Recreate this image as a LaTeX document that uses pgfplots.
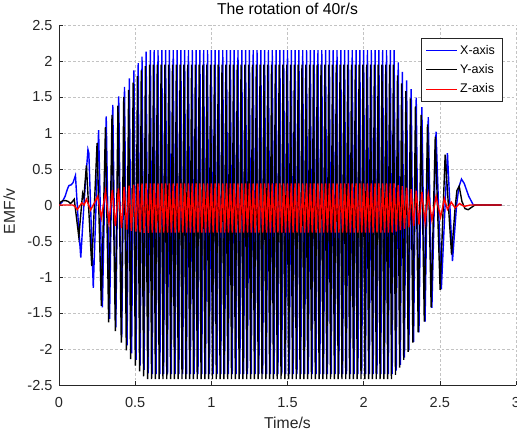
\documentclass[border=0pt]{standalone}
\usepackage{pgfplots}
\pgfplotsset{compat=1.18}
\usepackage{fontspec}
\setmainfont{Liberation Sans}
\definecolor{gridgray}{RGB}{195,195,195}
\definecolor{axisgray}{RGB}{38,38,38}
\pgfplotsset{
    every axis title/.style={at={(axis description cs:0.5,1.0278)}, anchor=base,
        font=\fontsize{11.8}{13}\selectfont, inner sep=0pt},
    every axis x label/.style={at={(axis description cs:0.5,-0.1222)}, anchor=base,
        font=\fontsize{11.8}{13}\selectfont, text=axisgray, inner sep=0pt},
    every axis y label/.style={at={(axis description cs:-0.0963,0.482)}, rotate=90, anchor=base,
        font=\fontsize{11.8}{13}\selectfont, text=axisgray, inner sep=0pt},
}
\begin{document}
\begin{tikzpicture}
\begin{axis}[
    scale only axis,
    width=342.75pt, height=270pt,
    xmin=0, xmax=3, ymin=-2.5, ymax=2.5,
    xtick={0,0.5,1,1.5,2,2.5,3},
    ytick={-2.5,-2,-1.5,-1,-0.5,0,0.5,1,1.5,2,2.5},
    axis lines=left,
    axis line style={-, axisgray, line width=0.6pt},
    tick align=inside,
    major tick length=3pt,
    tick style={axisgray, line width=0.5pt},
    grid=major,
    grid style={gridgray, line width=0.5pt, dash pattern=on 2pt off 1.5pt},
    /pgf/number format/assume math mode=true,
    ticklabel style={font=\fontsize{10.9}{12}\selectfont, text=axisgray, inner sep=0pt},
    xticklabel style={anchor=base, yshift=-16.7pt},
    yticklabel style={anchor=east, xshift=-4.7pt},
    title={The rotation of 40r/s},
    xlabel={Time/s},
    ylabel={EMF/v},
    legend style={at={(axis description cs:1,1)}, anchor=north east,
        xshift=-10.3pt, yshift=-10pt,
        font=\fontsize{9.4}{11}\selectfont, draw=axisgray, line width=0.5pt,
        fill=white, inner xsep=3.2pt, inner ysep=3pt, row sep=2pt,
        legend cell align=left},
    legend image code/.code={\draw[#1, line width=0.7pt] (0pt,0pt) -- (23pt,0pt);},
    every axis plot/.append style={line width=1.05pt},
]
\addplot[blue] coordinates {
(0,0) (0.02,0.04) (0.04,0.12) (0.055,0.22) (0.065,0.27) (0.08,0.28) (0.092,0.31) (0.1,0.36) (0.108,0.41)
(0.125,-0.18) (0.143,-0.73) (0.165,0.05) (0.19,0.77) (0.196,0.72) (0.225,-1.15)
(0.26,1.04) (0.285,-1.42) (0.31,1.23) (0.332,-1.58) (0.353,1.39) (0.373,-1.7) (0.392,1.51)
(0.412,-1.84) (0.43,1.64) (0.447,-1.95) (0.462,1.76) (0.477,-2.06) (0.492,1.87) (0.506,-2.15)
(0.52,1.97) (0.533,-2.23) (0.545,2.06) (0.559,-2.29) (0.572,2.13) (0.586,-2.34)
(0.6,2.15) (0.6125,-2.35) (0.625,2.15) (0.6375,-2.35) (0.65,2.15) (0.6625,-2.35) (0.675,2.15) (0.6875,-2.35)
(0.7,2.15) (0.7125,-2.35) (0.725,2.15) (0.7375,-2.35) (0.75,2.15) (0.7625,-2.35) (0.775,2.15) (0.7875,-2.35)
(0.8,2.15) (0.8125,-2.35) (0.825,2.15) (0.8375,-2.35) (0.85,2.15) (0.8625,-2.35) (0.875,2.15) (0.8875,-2.35)
(0.9,2.15) (0.9125,-2.35) (0.925,2.15) (0.9375,-2.35) (0.95,2.15) (0.9625,-2.35) (0.975,2.15) (0.9875,-2.35)
(1.0,2.15) (1.0125,-2.35) (1.025,2.15) (1.0375,-2.35) (1.05,2.15) (1.0625,-2.35) (1.075,2.15) (1.0875,-2.35)
(1.1,2.15) (1.1125,-2.35) (1.125,2.15) (1.1375,-2.35) (1.15,2.15) (1.1625,-2.35) (1.175,2.15) (1.1875,-2.35)
(1.2,2.15) (1.2125,-2.35) (1.225,2.15) (1.2375,-2.35) (1.25,2.15) (1.2625,-2.35) (1.275,2.15) (1.2875,-2.35)
(1.3,2.15) (1.3125,-2.35) (1.325,2.15) (1.3375,-2.35) (1.35,2.15) (1.3625,-2.35) (1.375,2.15) (1.3875,-2.35)
(1.4,2.15) (1.4125,-2.35) (1.425,2.15) (1.4375,-2.35) (1.45,2.15) (1.4625,-2.35) (1.475,2.15) (1.4875,-2.35)
(1.5,2.15) (1.5125,-2.35) (1.525,2.15) (1.5375,-2.35) (1.55,2.15) (1.5625,-2.35) (1.575,2.15) (1.5875,-2.35)
(1.6,2.15) (1.6125,-2.35) (1.625,2.15) (1.6375,-2.35) (1.65,2.15) (1.6625,-2.35) (1.675,2.15) (1.6875,-2.35)
(1.7,2.15) (1.7125,-2.35) (1.725,2.15) (1.7375,-2.35) (1.75,2.15) (1.7625,-2.35) (1.775,2.15) (1.7875,-2.35)
(1.8,2.15) (1.8125,-2.35) (1.825,2.15) (1.8375,-2.35) (1.85,2.15) (1.8625,-2.35) (1.875,2.15) (1.8875,-2.35)
(1.9,2.15) (1.9125,-2.35) (1.925,2.15) (1.9375,-2.35) (1.95,2.15) (1.9625,-2.35) (1.975,2.15) (1.9875,-2.35)
(2.0,2.15) (2.0125,-2.35) (2.025,2.15) (2.0375,-2.35) (2.05,2.15) (2.0625,-2.35) (2.075,2.15) (2.0875,-2.35)
(2.1,2.15) (2.1125,-2.35) (2.125,2.15) (2.1375,-2.35) (2.15,2.15) (2.1625,-2.35) (2.175,2.15) (2.1875,-2.35)
(2.2,2.15)
(2.214,-2.3) (2.227,1.98) (2.241,-2.22) (2.254,1.85) (2.268,-2.12) (2.282,1.73) (2.297,-2.02)
(2.312,1.61) (2.328,-1.9) (2.345,1.49) (2.363,-1.77) (2.382,1.36) (2.403,-1.62) (2.424,1.22)
(2.448,-1.43) (2.475,1.02) (2.51,-1.17) (2.55,0.72) (2.583,-0.78) (2.61,0.0) (2.625,0.25)
(2.642,0.36) (2.66,0.3) (2.69,0.12) (2.72,0.0) (2.905,0.0)
};
\addplot[black] coordinates {
(0,0) (0.01,0.04) (0.025,0.06) (0.045,0.06) (0.06,0.05) (0.075,0.02) (0.085,0.04) (0.1,0.08)
(0.13,-0.44) (0.155,0.16) (0.163,0.1) (0.18,0.55) (0.215,-0.85) (0.25,0.86) (0.278,-1.4)
(0.305,1.08) (0.326,-1.63) (0.348,1.25) (0.37,-1.75) (0.387,1.38) (0.409,-1.91) (0.425,1.5)
(0.442,-2.02) (0.457,1.6) (0.47,-2.14) (0.487,1.7) (0.501,-2.23) (0.515,1.79) (0.529,-2.31)
(0.54,1.87) (0.555,-2.38) (0.567,1.93) (0.582,-2.42)
(0.595,1.95) (0.6075,-2.42) (0.62,1.95) (0.6325,-2.42) (0.645,1.95) (0.6575,-2.42) (0.67,1.95) (0.6825,-2.42)
(0.695,1.95) (0.7075,-2.42) (0.72,1.95) (0.7325,-2.42) (0.745,1.95) (0.7575,-2.42) (0.77,1.95) (0.7825,-2.42)
(0.795,1.95) (0.8075,-2.42) (0.82,1.95) (0.8325,-2.42) (0.845,1.95) (0.8575,-2.42) (0.87,1.95) (0.8825,-2.42)
(0.895,1.95) (0.9075,-2.42) (0.92,1.95) (0.9325,-2.42) (0.945,1.95) (0.9575,-2.42) (0.97,1.95) (0.9825,-2.42)
(0.995,1.95) (1.0075,-2.42) (1.02,1.95) (1.0325,-2.42) (1.045,1.95) (1.0575,-2.42) (1.07,1.95) (1.0825,-2.42)
(1.095,1.95) (1.1075,-2.42) (1.12,1.95) (1.1325,-2.42) (1.145,1.95) (1.1575,-2.42) (1.17,1.95) (1.1825,-2.42)
(1.195,1.95) (1.2075,-2.42) (1.22,1.95) (1.2325,-2.42) (1.245,1.95) (1.2575,-2.42) (1.27,1.95) (1.2825,-2.42)
(1.295,1.95) (1.3075,-2.42) (1.32,1.95) (1.3325,-2.42) (1.345,1.95) (1.3575,-2.42) (1.37,1.95) (1.3825,-2.42)
(1.395,1.95) (1.4075,-2.42) (1.42,1.95) (1.4325,-2.42) (1.445,1.95) (1.4575,-2.42) (1.47,1.95) (1.4825,-2.42)
(1.495,1.95) (1.5075,-2.42) (1.52,1.95) (1.5325,-2.42) (1.545,1.95) (1.5575,-2.42) (1.57,1.95) (1.5825,-2.42)
(1.595,1.95) (1.6075,-2.42) (1.62,1.95) (1.6325,-2.42) (1.645,1.95) (1.6575,-2.42) (1.67,1.95) (1.6825,-2.42)
(1.695,1.95) (1.7075,-2.42) (1.72,1.95) (1.7325,-2.42) (1.745,1.95) (1.7575,-2.42) (1.77,1.95) (1.7825,-2.42)
(1.795,1.95) (1.8075,-2.42) (1.82,1.95) (1.8325,-2.42) (1.845,1.95) (1.8575,-2.42) (1.87,1.95) (1.8825,-2.42)
(1.895,1.95) (1.9075,-2.42) (1.92,1.95) (1.9325,-2.42) (1.945,1.95) (1.9575,-2.42) (1.97,1.95) (1.9825,-2.42)
(1.995,1.95) (2.0075,-2.42) (2.02,1.95) (2.0325,-2.42) (2.045,1.95) (2.0575,-2.42) (2.07,1.95) (2.0825,-2.42)
(2.095,1.95) (2.1075,-2.42) (2.12,1.95) (2.1325,-2.42) (2.145,1.95) (2.1575,-2.42) (2.17,1.95) (2.1825,-2.42)
(2.195,1.95)
(2.209,-2.36) (2.222,1.8) (2.236,-2.26) (2.249,1.69) (2.263,-2.15) (2.277,1.58) (2.292,-2.04)
(2.307,1.48) (2.323,-1.91) (2.34,1.37) (2.358,-1.77) (2.377,1.25) (2.398,-1.62) (2.419,1.12)
(2.443,-1.42) (2.47,0.95) (2.502,-1.18) (2.535,0.7) (2.577,-0.69) (2.6,-0.05) (2.612,0.2)
(2.627,0.26) (2.645,0.05) (2.665,-0.05) (2.686,-0.065) (2.71,-0.03) (2.73,0.0) (2.905,0.0)
};
\addplot[red] coordinates {
(0,0) (0.09,0.0) (0.105,-0.02) (0.12,-0.065) (0.15,0.03) (0.165,0.0) (0.18,0.08) (0.207,-0.07)
(0.23,0.02) (0.254,0.12) (0.278,-0.18) (0.305,0.19) (0.328,-0.25) (0.35,0.21) (0.37,-0.29)
(0.39,0.23) (0.41,-0.32) (0.428,0.25) (0.445,-0.34) (0.46,0.27) (0.475,-0.36) (0.49,0.28)
(0.505,-0.37) (0.518,0.295) (0.532,-0.38) (0.545,0.3) (0.559,-0.385) (0.572,0.3) (0.586,-0.385)
(0.6,0.3) (0.6125,-0.385) (0.625,0.3) (0.6375,-0.385) (0.65,0.3) (0.6625,-0.385) (0.675,0.3) (0.6875,-0.385)
(0.7,0.3) (0.7125,-0.385) (0.725,0.3) (0.7375,-0.385) (0.75,0.3) (0.7625,-0.385) (0.775,0.3) (0.7875,-0.385)
(0.8,0.3) (0.8125,-0.385) (0.825,0.3) (0.8375,-0.385) (0.85,0.3) (0.8625,-0.385) (0.875,0.3) (0.8875,-0.385)
(0.9,0.3) (0.9125,-0.385) (0.925,0.3) (0.9375,-0.385) (0.95,0.3) (0.9625,-0.385) (0.975,0.3) (0.9875,-0.385)
(1.0,0.3) (1.0125,-0.385) (1.025,0.3) (1.0375,-0.385) (1.05,0.3) (1.0625,-0.385) (1.075,0.3) (1.0875,-0.385)
(1.1,0.3) (1.1125,-0.385) (1.125,0.3) (1.1375,-0.385) (1.15,0.3) (1.1625,-0.385) (1.175,0.3) (1.1875,-0.385)
(1.2,0.3) (1.2125,-0.385) (1.225,0.3) (1.2375,-0.385) (1.25,0.3) (1.2625,-0.385) (1.275,0.3) (1.2875,-0.385)
(1.3,0.3) (1.3125,-0.385) (1.325,0.3) (1.3375,-0.385) (1.35,0.3) (1.3625,-0.385) (1.375,0.3) (1.3875,-0.385)
(1.4,0.3) (1.4125,-0.385) (1.425,0.3) (1.4375,-0.385) (1.45,0.3) (1.4625,-0.385) (1.475,0.3) (1.4875,-0.385)
(1.5,0.3) (1.5125,-0.385) (1.525,0.3) (1.5375,-0.385) (1.55,0.3) (1.5625,-0.385) (1.575,0.3) (1.5875,-0.385)
(1.6,0.3) (1.6125,-0.385) (1.625,0.3) (1.6375,-0.385) (1.65,0.3) (1.6625,-0.385) (1.675,0.3) (1.6875,-0.385)
(1.7,0.3) (1.7125,-0.385) (1.725,0.3) (1.7375,-0.385) (1.75,0.3) (1.7625,-0.385) (1.775,0.3) (1.7875,-0.385)
(1.8,0.3) (1.8125,-0.385) (1.825,0.3) (1.8375,-0.385) (1.85,0.3) (1.8625,-0.385) (1.875,0.3) (1.8875,-0.385)
(1.9,0.3) (1.9125,-0.385) (1.925,0.3) (1.9375,-0.385) (1.95,0.3) (1.9625,-0.385) (1.975,0.3) (1.9875,-0.385)
(2.0,0.3) (2.0125,-0.385) (2.025,0.3) (2.0375,-0.385) (2.05,0.3) (2.0625,-0.385) (2.075,0.3) (2.0875,-0.385)
(2.1,0.3) (2.1125,-0.385) (2.125,0.3) (2.1375,-0.385) (2.15,0.3) (2.1625,-0.385) (2.175,0.3) (2.1875,-0.385)
(2.2,0.3)
(2.214,-0.37) (2.227,0.28) (2.241,-0.35) (2.254,0.26) (2.268,-0.33) (2.282,0.24) (2.297,-0.31)
(2.312,0.22) (2.328,-0.29) (2.345,0.2) (2.363,-0.27) (2.382,0.18) (2.403,-0.24) (2.424,0.15)
(2.448,-0.21) (2.475,0.12) (2.505,-0.17) (2.53,0.09) (2.55,-0.06) (2.575,0.04) (2.6,-0.04)
(2.63,0.02) (2.66,-0.02) (2.7,0.0) (2.905,0.0)
};
\legend{X-axis, Y-axis, Z-axis}
\end{axis}
\pgfresetboundingbox
\path ([shift={(-44.25pt,-35.25pt)}]current axis.south west) rectangle ([shift={(0.75pt,18.75pt)}]current axis.north east);
\end{tikzpicture}
\end{document}
